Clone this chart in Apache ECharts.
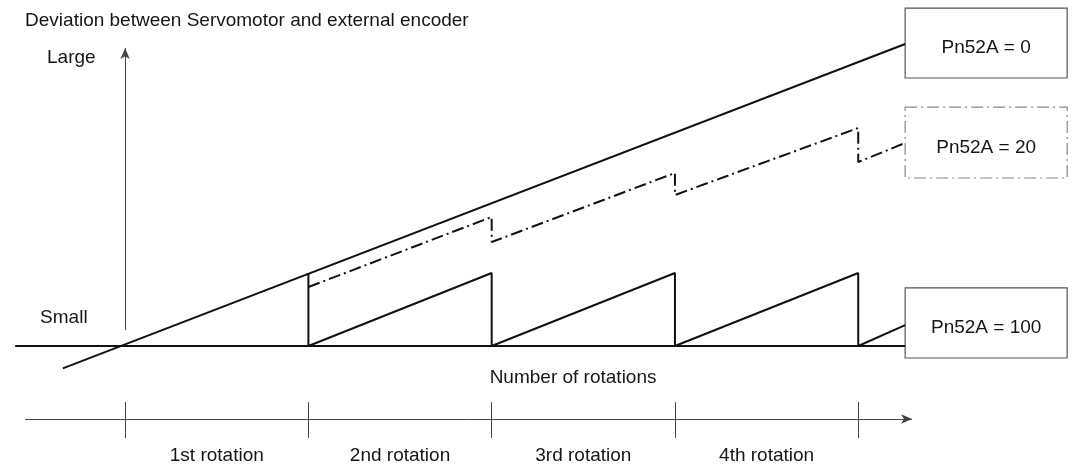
<!DOCTYPE html>
<html>
<head>
<meta charset="utf-8">
<script src="https://cdn.jsdelivr.net/npm/echarts@6/dist/echarts.min.js"></script>
<style>
html,body{margin:0;padding:0;background:#fff;}
#chart{width:1073px;height:465px;}
</style>
</head>
<body>
<div id="chart"></div>
<script>
// ---- data (x in rotations, y in deviation units) ----
const rotationTicks = [0, 1, 2, 3, 4];
const rotationLabels = ['1st rotation', '2nd rotation', '3rd rotation', '4th rotation'];
const baseline = [[-0.6, 0], [4.256, 0]];
const pn0 = [[-0.34, -0.31], [4.256, 4.194]];
const pn20 = [[1, 0.819], [2, 1.792], [2, 1.444], [3, 2.403], [3, 2.097], [4, 3.028], [4, 2.556], [4.256, 2.82]];
const pn100 = [[1, 1.014], [1, 0], [2, 1.014], [2, 0], [3, 1.014], [3, 0], [4, 1.014], [4, 0], [4.256, 0.29]];
const boxNames = ['Pn52A = 0', 'Pn52A = 20', 'Pn52A = 100'];
const boxX = [4.256, 5.14];
const boxY = [[4.694, 3.722], [3.319, 2.333], [0.806, -0.167]];
const devAxis = [[0, 0.22], [0, 4.14]];
const rotAxis = [[-0.546, -1.014], [4.294, -1.014]];
const tickSpan = [-0.778, -1.278];
const texts = [
  {name: 'Deviation between Servomotor and external encoder', value: [-0.546, 4.514]},
  {name: 'Large', value: [-0.426, 4.01]},
  {name: 'Small', value: [-0.464, 0.389]},
  {name: 'Number of rotations', value: [2.444, -0.444], center: true}
];
const rotLabelY = -1.528;

const FONT = 'Liberation Sans, Arial, Helvetica, sans-serif';
const TXT = '#161616';
const chart = echarts.init(document.getElementById('chart'), null, {renderer: 'canvas'});

function lineSeries(data, style, extra) {
  return Object.assign({
    type: 'line', data: data, symbol: 'none', silent: true, clip: false,
    lineStyle: style, animation: false, z: 3
  }, extra || {});
}

const option = {
  animation: false,
  backgroundColor: '#ffffff',
  grid: {left: 6, right: 4, top: 4, bottom: 2},
  xAxis: {type: 'value', min: -0.65, max: 5.15, show: false},
  yAxis: {type: 'value', min: -1.625, max: 4.75, show: false},
  series: [
    lineSeries(baseline, {color: '#111', width: 2}, {
      markArea: {
        silent: true,
        label: {show: true, position: 'inside', color: TXT, fontSize: 19, fontFamily: FONT, offset: [0, 5]},
        data: boxNames.map((n, i) => [
          {name: n, coord: [boxX[0], boxY[i][0]],
           itemStyle: {color: 'rgba(0,0,0,0)', borderColor: i === 1 ? '#888' : '#555', borderWidth: 1.2,
             borderType: i === 1 ? [12, 4, 2, 4] : 'solid'}},
          {coord: [boxX[1], boxY[i][1]]}
        ])
      }
    }),
    lineSeries(pn0, {color: '#111', width: 2}),
    lineSeries(pn100, {color: '#111', width: 2}),
    lineSeries(pn20, {color: '#111', width: 2, type: [12, 4, 2, 4]}),
    lineSeries([], {color: '#444', width: 1}, {
      markLine: {
        silent: true, animation: false,
        label: {show: false},
        lineStyle: {color: '#444', width: 1, type: 'solid'},
        data: [
          [{coord: devAxis[0], symbol: 'none'}, {coord: devAxis[1], symbol: 'arrow', symbolSize: [7, 11]}],
          [{coord: rotAxis[0], symbol: 'none'}, {coord: rotAxis[1], symbol: 'arrow', symbolSize: [7, 11]}]
        ].concat(rotationTicks.map(t => [
          {coord: [t, tickSpan[0]], symbol: 'none'}, {coord: [t, tickSpan[1]], symbol: 'none'}
        ]))
      }
    }),
    {
      type: 'scatter', silent: true, symbolSize: 0, clip: false, animation: false,
      itemStyle: {opacity: 1},
      data: texts.map(t => ({name: t.name, value: t.value,
        label: {align: t.center ? 'center' : 'left'}})),
      label: {show: true, position: 'inside', formatter: p => p.name, color: TXT, opacity: 1, fontSize: 19, fontFamily: FONT,
        verticalAlign: 'middle'}
    },
    {
      type: 'scatter', silent: true, symbolSize: 0, clip: false, animation: false,
      itemStyle: {opacity: 1},
      data: rotationLabels.map((n, i) => ({name: n, value: [rotationTicks[i] + 0.5, rotLabelY]})),
      label: {show: true, position: 'inside', formatter: p => p.name, color: TXT, opacity: 1, fontSize: 19, fontFamily: FONT,
        align: 'center', verticalAlign: 'middle'}
    }
  ]
};
chart.setOption(option);
</script>
</body>
</html>
